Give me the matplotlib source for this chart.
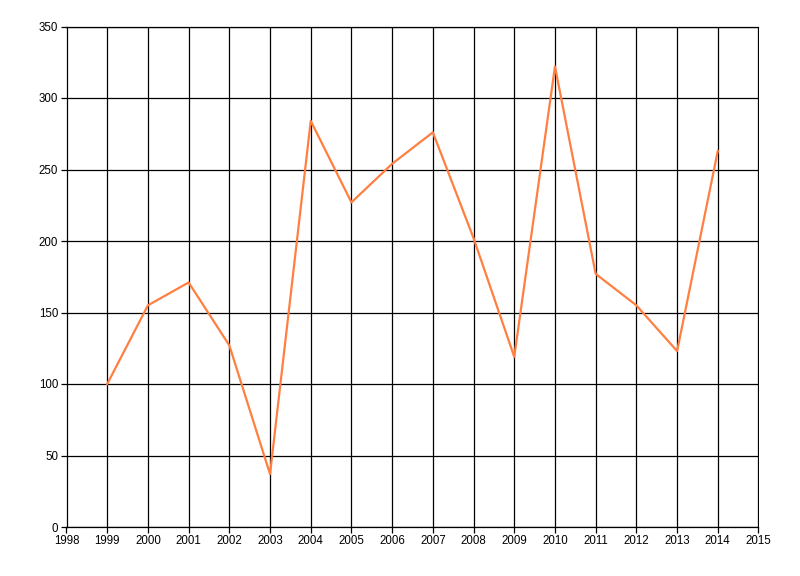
import matplotlib
matplotlib.use("Agg")
import matplotlib.pyplot as plt

# values
years = [1999, 2000, 2001, 2002, 2003, 2004, 2005, 2006, 2007, 2008,
         2009, 2010, 2011, 2012, 2013, 2014]
values = [100, 155, 171, 127, 37, 284, 227, 254, 276, 202,
          119, 322, 177, 155, 123, 263]
xticks = list(range(1998, 2016))
yticks = list(range(0, 351, 50))

plt.rcParams['font.family'] = ['Liberation Sans', 'DejaVu Sans']

fig = plt.figure(figsize=(8, 5.76), dpi=100)
ax = fig.add_axes([66.5 / 800, 1 - 527 / 576, 692 / 800, 500.5 / 576])

ax.plot(years, values, color='#FF7F41', linewidth=1.6, zorder=3)

ax.set_xlim(1998, 2015)
ax.set_ylim(0, 350)
ax.set_xticks(xticks)
ax.set_yticks(yticks)
ax.set_xticklabels([str(t) for t in xticks])
ax.grid(True, color='black', linewidth=0.9)
ax.tick_params(axis='both', direction='out', length=4, width=0.9,
               labelsize=8.3, pad=2, colors='black')
for s in ax.spines.values():
    s.set_color('black')
    s.set_linewidth(0.9)
ax.spines['right'].set_visible(False)
ax.set_axisbelow(True)

fig.savefig('out.png', dpi=100)
